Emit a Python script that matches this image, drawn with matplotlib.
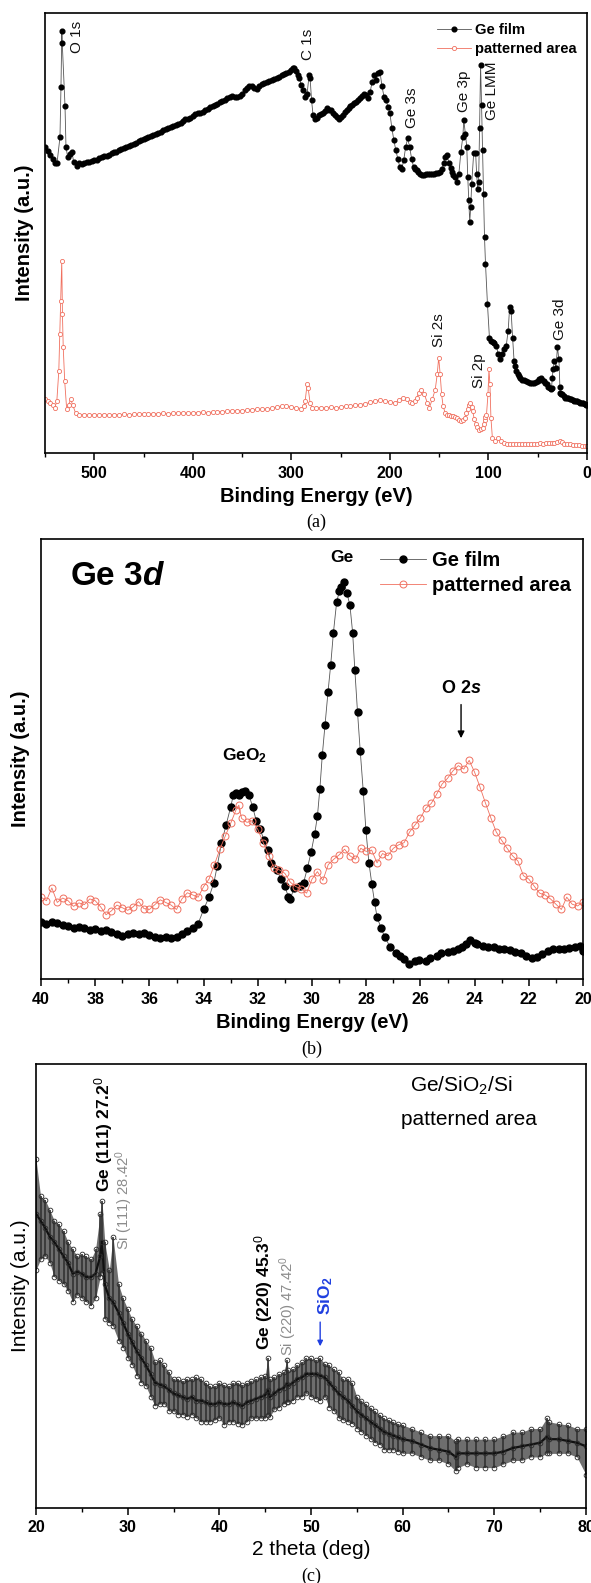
import numpy as np
import matplotlib
matplotlib.use('Agg')
import matplotlib.pyplot as plt
from matplotlib.ticker import MultipleLocator

plt.rcParams['font.family'] = ['Liberation Sans', 'DejaVu Sans']
plt.rcParams['mathtext.fontset'] = 'custom'
plt.rcParams['mathtext.rm'] = 'Liberation Sans'
plt.rcParams['mathtext.it'] = 'Liberation Sans:italic'
plt.rcParams['mathtext.bf'] = 'Liberation Sans:bold'
plt.rcParams['mathtext.bfit'] = 'Liberation Sans:italic:bold'

RED = '#f0705f'
GRAY = '#8c8c8c'

# ── (a) XPS survey: (binding energy, intensity) pairs ────
survey_ge_pts = [
    (550, 69.5), (547, 68.6), (545, 67.7), (542, 66.8), (540, 65.9), (537.8, 65.9),
    (534.8, 71.8), (533.8, 83.2), (532.9, 95.9), (532.5, 93.2), (529.7, 78.9),
    (528.7, 69.5), (527, 67.3), (525, 68.0), (522.6, 68.4), (521, 66.2),
    (517.5, 65.2), (515, 65.8), (512.5, 65.7), (510, 65.9), (507.5, 66.1),
    (505, 66.2), (502.5, 66.4), (500, 66.6), (497.5, 66.7), (495, 67.0),
    (492.5, 67.2), (490, 67.4), (487.5, 67.5), (485, 67.8), (482.5, 68.1),
    (480, 68.3), (477.5, 68.4), (475, 68.8), (472.5, 69.1), (470, 69.3),
    (467.5, 69.5), (465, 69.8), (462.5, 70.1), (460, 70.3), (457.5, 70.4),
    (455, 70.8), (452.5, 71.1), (450, 71.3), (447.5, 71.5), (445, 71.8),
    (442.5, 72.0), (440, 72.3), (437.5, 72.6), (435, 72.8), (432.5, 73.0),
    (430, 73.3), (427.5, 73.6), (425, 73.8), (422.5, 74.0), (420, 74.3),
    (417.5, 74.6), (415, 74.8), (412.5, 75.0), (410, 75.4), (407.5, 75.8),
    (405, 76.0), (402.5, 76.2), (400, 76.6), (397.5, 77.0), (395, 77.2),
    (392.5, 77.3), (390, 77.6), (387.5, 77.9), (385, 78.2), (382.5, 78.6),
    (380, 78.8), (377.5, 79.0), (375, 79.4), (372.5, 79.8), (370, 80.0),
    (367.5, 80.3), (365, 80.6), (362.5, 81.0), (360, 81.2), (357.5, 81.0),
    (355, 80.8), (352.5, 81.2), (350, 81.6), (347.5, 82.4), (345, 83.0),
    (342.5, 83.3), (340, 83.4), (337.5, 83.0), (335, 82.8), (332.5, 83.3),
    (330, 83.8), (327.5, 84.1), (325, 84.4), (322.5, 84.6), (320, 84.8),
    (317.5, 85.0), (315, 85.2), (312.5, 85.5), (310, 85.8), (307.5, 86.1),
    (305, 86.4), (302.5, 86.6), (300, 87.0), (298.5, 87.4), (297, 87.6),
    (295, 86.8), (293.5, 86.0), (292, 85.2), (290, 83.7), (288, 82.5),
    (286, 81.0), (284, 81.7), (282, 85.9), (281, 85.2), (279.5, 80.2),
    (278, 76.8), (276, 76.0), (274, 76.2), (272, 76.8), (270, 77.0),
    (268, 77.2), (266, 77.8), (264, 78.3), (262, 78.0), (260, 77.9),
    (258, 77.3), (256, 76.8), (254, 76.3), (252, 76.0), (250, 76.3),
    (248, 76.8), (246, 77.4), (244, 77.9), (242, 78.4), (240, 78.9),
    (238, 79.2), (236, 79.5), (234, 79.8), (232, 80.2), (230, 80.6),
    (228, 81.1), (226, 81.5), (224, 81.4), (222, 80.6), (220, 82.1),
    (218, 84.4), (216, 85.9), (214, 84.8), (212, 86.3), (210, 86.5),
    (208, 83.3), (206, 81.0), (204, 80.2), (202, 78.7), (200, 77.2),
    (198, 73.8), (196, 71.1), (194, 68.8), (192, 66.9), (190, 65.0),
    (188, 64.6), (186, 66.5), (184, 69.6), (182, 71.5), (180, 69.6),
    (178, 66.9), (176, 65.0), (174.5, 64.6), (173, 64.3), (171, 63.8),
    (169, 63.5), (167, 63.2), (165, 63.1), (163, 63.3), (161, 63.5),
    (159, 63.5), (157, 63.4), (155, 63.5), (153, 63.6), (151, 63.6),
    (149, 63.9), (147, 64.6), (145.5, 66.0), (144, 67.3), (142, 67.7),
    (140, 65.8), (138.5, 64.8), (137, 63.9), (135.5, 63.2), (134, 62.7),
    (132, 61.6), (130, 63.5), (128, 68.4), (126, 71.9), (125, 75.7),
    (123.5, 72.6), (122, 69.6), (121, 62.7), (120, 57.4), (119, 52.5),
    (118, 55.9), (117, 61.2), (115, 68.1), (113, 68.1), (112, 63.5),
    (111, 60.1), (110, 61.6), (109, 73.8), (108, 88.2), (107, 79.1),
    (106, 68.8), (105, 58.9), (104, 49.0), (103, 43.0), (101, 33.8),
    (99, 26.2), (97, 25.5), (95.5, 25.3), (94, 25.1), (92, 24.3),
    (90, 22.4), (88, 21.3), (86, 22.4), (84, 23.6), (82, 24.3),
    (80, 27.8), (78.5, 33.1), (77, 32.3), (75.5, 26.2), (74, 20.9),
    (73, 19.7), (72, 18.6), (70.5, 18.0), (69, 17.5), (67.5, 17.1),
    (66, 16.7), (64, 16.5), (62, 16.3), (60, 16.1), (58, 16.0),
    (56, 16.0), (54, 16.0), (52, 16.1), (50, 16.3), (48.5, 16.8),
    (47, 17.1), (45.5, 16.6), (44, 16.3), (42.5, 15.9), (41, 15.6),
    (39.5, 15.1), (38, 14.7), (37, 14.6), (36, 14.8), (35.2, 17.0),
    (34.5, 19.0), (33, 20.9), (31.5, 19.4), (30, 24.0), (28.5, 21.3),
    (27.5, 15.0), (27, 13.7), (26, 13.5), (25, 13.3), (23.5, 12.9),
    (22, 12.5), (20.5, 12.5), (19, 12.5), (17.5, 12.3), (16, 12.2),
    (14.5, 12.0), (13, 11.9), (11.5, 11.9), (10, 11.8), (8.5, 11.6),
    (7, 11.4), (5.5, 11.3), (4, 11.3), (2.5, 11.1), (1, 11.0), (0, 11.0)]

survey_pattern_pts = [
    (550, 12.2), (547, 11.8), (545, 11.4), (542, 10.8), (540, 10.3), (538, 11.8),
    (536, 18.6), (535, 27.0), (534, 34.6), (533, 43.7), (532.3, 31.6),
    (531.5, 24.0), (530, 16.3), (528, 9.9), (526, 11.0), (524, 12.2),
    (522, 11.0), (519, 9.1), (515, 8.7), (510, 8.7), (505, 8.6), (500, 8.7),
    (495, 8.6), (490, 8.7), (485, 8.6), (480, 8.7), (475, 8.7), (470, 8.8),
    (465, 8.7), (460, 8.8), (455, 8.8), (450, 8.9), (445, 8.8), (440, 8.9),
    (435, 8.9), (430, 9.0), (425, 8.9), (420, 9.0), (415, 9.1), (410, 9.1),
    (405, 9.0), (400, 9.1), (395, 9.2), (390, 9.3), (385, 9.2), (380, 9.3),
    (375, 9.4), (370, 9.4), (365, 9.5), (360, 9.5), (355, 9.6), (350, 9.6),
    (345, 9.7), (340, 9.8), (335, 9.9), (330, 9.9), (325, 10.0), (320, 10.2),
    (315, 10.4), (310, 10.6), (305, 10.7), (300, 10.4), (295, 10.3),
    (290, 10.1), (287.5, 10.6), (286, 11.8), (284, 15.7), (283, 14.8),
    (281, 11.4), (279, 10.3), (275, 10.2), (270, 10.3), (265, 10.2),
    (260, 10.4), (255, 10.3), (250, 10.4), (245, 10.6), (240, 10.7),
    (235, 10.8), (230, 11.0), (225, 11.2), (220, 11.5), (215, 11.8),
    (210, 12.0), (205, 11.8), (200, 11.6), (195, 11.4), (191, 12.0),
    (187, 12.5), (183, 12.2), (180, 11.7), (178, 11.4), (175, 11.8),
    (173, 12.5), (170.5, 13.6), (168, 14.4), (165, 13.3), (162, 11.4),
    (160, 10.3), (157, 12.2), (154, 14.4), (152, 17.9), (150.5, 21.7),
    (149, 17.9), (147.5, 13.3), (146, 10.6), (144, 9.2), (142, 8.7),
    (140, 8.7), (138, 8.5), (136, 8.4), (134, 8.2), (132, 8.0), (130, 7.6),
    (128, 7.2), (126, 7.6), (124, 8.0), (122.5, 9.0), (121, 9.9),
    (119.5, 11.0), (118.5, 11.4), (117, 10.5), (116, 9.5), (114.5, 7.8),
    (113, 6.5), (111.5, 5.8), (110, 5.3), (108, 5.4), (106, 5.7), (105, 6.5),
    (104, 7.4), (103, 8.2), (102, 8.7), (100.5, 13.3), (99.5, 19.0),
    (98.5, 15.6), (97.5, 8.0), (96, 3.4), (93, 2.7), (90, 3.4), (87, 2.7),
    (84, 2.2), (81, 2.0), (78, 2.0), (75, 2.0), (72, 2.0), (69, 2.0),
    (66, 2.0), (63, 2.1), (60, 2.0), (57, 2.1), (54, 2.1), (51, 2.1),
    (48, 2.2), (45, 2.1), (42, 2.2), (39, 2.2), (36, 2.3), (33, 2.2),
    (30, 2.4), (27, 2.8), (25, 2.4), (23, 2.0), (20, 2.0), (17, 2.0),
    (14, 1.9), (11, 1.9), (8, 1.8), (5, 1.7), (2, 1.6), (0, 1.5)]

survey_labels = ['O 1s', 'C 1s', 'Ge 3s', 'Ge 3p', 'Ge LMM', 'Si 2s', 'Si 2p', 'Ge 3d']
survey_label_be = [517.5, 283, 177.6, 124.8, 96.4, 150.2, 109.6, 27.4]
survey_label_y = [90.9, 89.3, 73.9, 77.5, 75.7, 24.1, 14.8, 25.7]

# ── (b) Ge 3d core level ─────────────────────────────────────────────────────
ge3d_be = [40.0, 39.8, 39.6, 39.4, 39.2, 39.0, 38.8, 38.6, 38.4, 38.2, 38.0,
           37.8, 37.6, 37.4, 37.2, 37.0, 36.8, 36.6, 36.4, 36.2, 36.0, 35.8,
           35.6, 35.4, 35.2, 35.0, 34.8, 34.6, 34.4, 34.2, 34.0, 33.8, 33.62,
           33.5, 33.34, 33.17, 33.0, 32.9, 32.8, 32.7, 32.6, 32.47, 32.33, 32.19,
           32.05, 31.92, 31.78, 31.64, 31.5, 31.29, 31.15, 31.0, 30.87, 30.8,
           30.66, 30.45, 30.31, 30.17, 30.03, 29.9, 29.8, 29.71, 29.62, 29.52,
           29.41, 29.31, 29.21, 29.09, 28.99, 28.92, 28.82, 28.71, 28.6, 28.5,
           28.42, 28.32, 28.22, 28.11, 28.01, 27.9, 27.79, 27.69, 27.6, 27.46,
           27.32, 27.11, 26.9, 26.76, 26.6, 26.41, 26.2, 26.06, 25.8, 25.64,
           25.4, 25.23, 25.0, 24.81, 24.6, 24.46, 24.3, 24.18, 24.0, 23.9, 23.7,
           23.5, 23.3, 23.1, 22.9, 22.7, 22.5, 22.3, 22.1, 21.9, 21.7, 21.5,
           21.3, 21.1, 20.9, 20.7, 20.5, 20.3, 20.1, 20.0]
ge3d_film = [12.9, 12.6, 13.0, 12.8, 12.3, 12.0, 11.6, 11.9, 11.5, 11.2, 11.4,
             11.0, 11.2, 10.7, 10.2, 9.8, 10.3, 10.5, 10.2, 10.4, 10.1, 9.6,
             9.3, 9.5, 9.3, 9.6, 10.2, 10.8, 11.5, 12.6, 15.8, 18.6, 21.9,
             25.6, 30.9, 35.0, 39.1, 41.9, 42.3, 41.9, 42.5, 42.8, 41.9, 39.1,
             35.8, 34.2, 31.7, 29.3, 26.4, 24.8, 22.7, 21.1, 18.6, 18.2,
             20.7, 21.1, 21.9, 25.2, 28.9, 33.0, 37.0, 43.2, 50.9, 57.7,
             65.2, 71.4, 78.7, 85.7, 88.1, 89.0, 90.2, 87.7, 84.9, 78.7,
             70.3, 60.6, 51.8, 42.8, 33.8, 26.4, 21.5, 17.4, 14.1, 11.7,
             9.6, 7.2, 6.0, 5.2, 4.6, 3.5, 4.0, 4.3, 4.0, 4.7,
             5.3, 6.0, 6.1, 6.4, 6.9, 7.2, 8.0, 8.8, 8.2, 8.0, 7.6,
             7.3, 7.2, 6.9, 6.8, 6.6, 6.2, 6.0, 5.3, 4.7, 5.0, 5.6,
             6.4, 6.8, 6.9, 6.8, 7.0, 7.3, 7.6, 6.4]

o2s_be = [40.0, 39.8, 39.6, 39.4, 39.2, 39.0, 38.8, 38.6, 38.4, 38.2, 38.0,
          37.8, 37.6, 37.4, 37.2, 37.0, 36.8, 36.6, 36.4, 36.2, 36.0, 35.8,
          35.6, 35.4, 35.2, 35.0, 34.8, 34.6, 34.4, 34.2, 34.0, 33.8, 33.6,
          33.4, 33.2, 33.0, 32.8, 32.7, 32.6, 32.4, 32.2, 32.0, 31.8, 31.6,
          31.4, 31.2, 31.0, 30.8, 30.6, 30.4, 30.2, 30.0, 29.8, 29.6, 29.4,
          29.2, 29.0, 28.8, 28.6, 28.4, 28.2, 28.0, 27.8, 27.6, 27.4, 27.2,
          27.0, 26.8, 26.6, 26.4, 26.2, 26.0, 25.8, 25.6, 25.4, 25.2, 25.0,
          24.8, 24.6, 24.4, 24.2, 24.0, 23.8, 23.6, 23.4, 23.2, 23.0, 22.8,
          22.6, 22.4, 22.2, 22.0, 21.8, 21.6, 21.4, 21.2, 21.0, 20.8, 20.6,
          20.4, 20.2, 20.0]
o2s_pattern = [18.6, 17.8, 20.7, 17.4, 18.4, 17.8, 16.5, 17.3, 16.9, 18.2, 17.8,
               16.4, 14.6, 15.5, 16.8, 16.2, 15.6, 16.4, 17.6, 16.0, 15.8, 16.9,
               18.0, 17.4, 16.8, 15.8, 18.2, 19.6, 19.1, 18.6, 21.0, 22.7, 26.0,
               29.5, 32.5, 35.4, 38.5, 39.5, 36.5, 35.6, 36.0, 34.0, 31.0, 28.0,
               25.2, 24.8, 24.0, 22.0, 21.0, 20.5, 19.5, 22.7, 24.4, 22.4, 26.0,
               27.2, 28.2, 29.5, 28.0, 27.2, 29.7, 29.0, 29.3, 26.4, 28.5, 28.0,
               29.7, 30.5, 31.0, 33.4, 35.0, 36.6, 38.8, 39.9, 42.0, 44.3, 45.6,
               47.3, 48.5, 47.7, 49.7, 47.0, 43.6, 40.0, 36.6, 33.4, 31.5, 29.7,
               28.0, 26.8, 23.5, 22.7, 21.1, 19.5, 19.1, 18.2, 17.0, 15.8, 18.6,
               17.0, 16.6, 17.5]

# ── (c) XRD: band centre and upper / lower edge of the noisy trace ───────────
two_theta = [20.0, 20.5, 21.0, 21.5, 22.0, 22.5, 23.0, 23.5, 24.0, 24.5, 25.0,
             25.5, 26.0, 26.5, 27.0, 27.2, 27.5, 28.0, 28.4, 29.0, 29.5, 30.0,
             30.5, 31.0, 31.5, 32.0, 32.5, 33.0, 33.5, 34.0, 34.5, 35.0, 35.5,
             36.0, 36.5, 37.0, 37.5, 38.0, 38.5, 39.0, 39.5, 40.0, 40.5, 41.0,
             41.5, 42.0, 42.5, 43.0, 43.5, 44.0, 44.5, 45.0, 45.3, 45.5, 46.0,
             46.5, 47.0, 47.4, 47.5, 48.0, 48.5, 49.0, 49.5, 50.0, 50.5, 51.0,
             51.5, 52.0, 52.5, 53.0, 53.5, 54.0, 54.5, 55.0, 55.5, 56.0, 56.5,
             57.0, 57.5, 58.0, 58.5, 59.0, 59.5, 60.0, 61.0, 62.0, 63.0, 64.0,
             65.0, 65.8, 66.0, 67.0, 68.0, 69.0, 70.0, 71.0, 72.0, 73.0, 74.0,
             75.0, 75.7, 76.0, 77.0, 78.0, 79.0, 80.0]
xrd_mid = [66.3, 64.7, 63.1, 61.1, 59.9, 58.3, 56.7, 55.2, 52.8, 53.2, 52.8,
           52.0, 52.0, 52.8, 56.7, 60.0, 50.4, 47.2, 46.4, 44.0, 41.7, 39.3,
           37.3, 35.3, 33.7, 32.1, 30.2, 28.2, 27.8, 27.4, 26.6, 25.8, 25.4,
           25.0, 24.6, 25.0, 24.2, 24.2, 23.8, 23.4, 23.4, 23.8, 23.4, 23.4,
           23.8, 23.4, 23.0, 23.8, 24.2, 24.6, 25.0, 25.4, 26.5, 25.0, 25.8,
           26.6, 27.0, 28.0, 27.4, 28.2, 29.0, 29.4, 30.2, 30.2, 30.2, 29.8,
           29.4, 28.2, 27.0, 25.8, 25.0, 24.2, 23.0, 21.8, 21.0, 20.2, 19.4,
           18.7, 17.9, 17.1, 16.7, 16.3, 15.9, 15.5, 15.1, 14.3, 13.5, 13.1,
           12.7, 11.5, 12.3, 12.3, 12.3, 12.3, 12.3, 12.7, 13.5, 13.9, 14.3,
           14.7, 16.0, 15.5, 15.5, 15.1, 14.7, 13.9]
xrd_hi = [78.6, 70.2, 69.4, 67.1, 64.7, 63.9, 62.3, 59.9, 58.3, 56.7, 57.1,
          56.7, 56.0, 58.3, 66.3, 69.2, 59.9, 53.6, 61.1, 50.4, 47.2, 44.8,
          42.5, 40.9, 39.3, 37.7, 36.1, 32.9, 33.3, 32.1, 30.6, 29.0, 29.0,
          28.6, 29.0, 29.0, 29.4, 29.0, 28.2, 27.4, 27.4, 28.2, 27.8, 27.4,
          28.2, 28.2, 27.8, 28.2, 28.6, 29.0, 29.4, 29.8, 33.7, 29.0, 29.4,
          30.2, 30.6, 33.3, 31.0, 31.3, 32.1, 32.9, 33.7, 33.7, 33.3, 33.7,
          32.5, 32.1, 31.3, 30.6, 29.0, 29.0, 28.2, 25.0, 24.2, 23.4, 22.6,
          21.8, 21.0, 20.2, 19.8, 19.4, 19.0, 18.7, 17.9, 17.1, 16.3, 16.3,
          16.3, 15.0, 15.5, 15.5, 15.5, 15.5, 15.5, 16.3, 17.1, 17.1, 17.9,
          17.9, 20.2, 19.4, 19.0, 18.7, 17.9, 17.9]
xrd_lo = [53.6, 56.0, 56.7, 55.2, 52.0, 51.2, 50.4, 48.8, 46.4, 48.0, 47.2,
          46.4, 45.6, 47.2, 52.0, 53.0, 42.5, 41.7, 40.9, 37.7, 36.1, 33.7,
          32.1, 29.8, 28.2, 27.4, 25.0, 23.0, 23.4, 23.4, 21.8, 21.8, 21.0,
          21.0, 20.6, 21.0, 20.2, 19.4, 19.4, 19.4, 19.8, 20.2, 18.7, 19.4,
          19.4, 19.0, 18.7, 19.4, 20.2, 20.2, 20.2, 20.2, 21.0, 20.6, 22.2,
          22.6, 23.4, 23.8, 23.8, 24.2, 25.0, 25.0, 25.8, 25.0, 24.6, 24.2,
          25.0, 22.6, 21.8, 20.2, 19.8, 19.4, 19.0, 17.9, 17.1, 16.3, 15.5,
          14.7, 14.3, 13.1, 13.1, 13.1, 12.7, 12.3, 12.3, 11.5, 10.7, 10.7,
          9.9, 8.3, 9.1, 9.9, 9.1, 9.1, 9.1, 9.9, 10.7, 10.7, 11.5,
          11.5, 12.3, 12.3, 12.3, 12.3, 11.5, 7.5]

W, H = 591, 1583
fig = plt.figure(figsize=(W / 100, H / 100), dpi=100)


def box(left, top, right, bottom):
    return [left / W, 1 - bottom / H, (right - left) / W, (bottom - top) / H]


def style_axis(ax):
    for sp in ax.spines.values():
        sp.set_linewidth(1.2)
    ax.set_yticks([])
    ax.tick_params(axis='x', which='major', direction='out', length=5, width=1.1,
                   labelsize=11.5, pad=4)
    ax.tick_params(axis='x', which='minor', direction='out', length=3, width=1.0)
    for lab in ax.get_xticklabels():
        lab.set_fontweight('bold')


# ── panel (a) ──
ge_be, ge_int = zip(*survey_ge_pts)
pa_be, pa_int = zip(*survey_pattern_pts)
ax1 = fig.add_axes(box(45, 13, 587, 453))
ax1.plot(ge_be, ge_int, '-', color='#555555', lw=0.6, marker='o', ms=3.4,
         mfc='black', mec='black', label='Ge film')
ax1.plot(pa_be, pa_int, '-', color=RED, lw=0.6, marker='o', ms=3.0,
         mfc='white', mec=RED, mew=0.6, label='patterned area')
ax1.set_xlim(550, 0)
ax1.set_ylim(0, 100)
ax1.xaxis.set_major_locator(MultipleLocator(100))
ax1.xaxis.set_minor_locator(MultipleLocator(50))
style_axis(ax1)
ax1.set_xlabel('Binding Energy (eV)', fontsize=14.5, fontweight='bold', labelpad=5)
ax1.set_ylabel('Intensity (a.u.)', fontsize=14.5, fontweight='bold', labelpad=8)
for txt, xb, yb in zip(survey_labels, survey_label_be, survey_label_y):
    ax1.text(xb, yb, txt, rotation=90, ha='center', va='bottom', fontsize=11,
             color='#111111')
ax1.legend(loc='upper right', frameon=False, handlelength=2.3, handletextpad=0.3,
           labelspacing=0.35, borderaxespad=0.3, prop={'weight': 'bold', 'size': 10.6})

# ── panel (b) ──
ax2 = fig.add_axes(box(41, 539, 583, 979))
ax2.plot(ge3d_be, ge3d_film, '-', color='#555555', lw=0.6, marker='o', ms=5,
         mfc='black', mec='black', label='Ge film')
ax2.plot(o2s_be, o2s_pattern, '-', color=RED, lw=0.6, marker='o', ms=5,
         mfc='none', mec=RED, mew=0.7, label='patterned area')
ax2.set_xlim(40, 20)
ax2.set_ylim(0, 100)
ax2.xaxis.set_major_locator(MultipleLocator(2))
ax2.xaxis.set_minor_locator(MultipleLocator(1))
style_axis(ax2)
ax2.set_xlabel('Binding Energy (eV)', fontsize=14.5, fontweight='bold', labelpad=5)
ax2.set_ylabel('Intensity (a.u.)', fontsize=14.5, fontweight='bold', labelpad=8)
ax2.text(0.054, 0.914, r'Ge 3$\mathbfit{d}$', transform=ax2.transAxes, fontsize=24,
         fontweight='bold', ha='left', va='center')
ax2.text(28.9, 95.9, 'Ge', ha='center', va='center', fontsize=12.5, fontweight='bold')
ax2.text(32.5, 50.7, r'GeO$_\mathbf{2}$', ha='center', va='center', fontsize=12.5,
         fontweight='bold')
ax2.text(24.5, 66.1, r'O 2$\mathbfit{s}$', ha='center', va='center', fontsize=13,
         fontweight='bold')
ax2.annotate('', xy=(24.5, 54.1), xytext=(24.5, 63.0),
             arrowprops=dict(arrowstyle='-|>', color='black', lw=1.0, mutation_scale=10))
ax2.legend(loc='upper right', frameon=False, handlelength=2.3, handletextpad=0.3,
           labelspacing=0.3, borderaxespad=0.2, prop={'weight': 'bold', 'size': 14.5})

# ── panel (c) ──
ax3 = fig.add_axes(box(36, 1064, 586, 1508))
ax3.fill_between(two_theta, xrd_lo, xrd_hi, color='#6e6e6e', lw=0)
ax3.vlines(two_theta, xrd_lo, xrd_hi, color='#333333', lw=1.2)
ax3.plot(two_theta, xrd_mid, '-', color='#111111', lw=1.6)
for series in (xrd_lo, xrd_mid, xrd_hi):
    ax3.plot(two_theta, series, 'o', ms=3.4, mfc='none', mec='#2a2a2a', mew=0.6)
ax3.set_xlim(20, 80)
ax3.set_ylim(0, 100)
ax3.xaxis.set_major_locator(MultipleLocator(10))
ax3.xaxis.set_minor_locator(MultipleLocator(5))
style_axis(ax3)
ax3.set_xlabel('2 theta (deg)', fontsize=15, labelpad=3)
ax3.set_ylabel('Intensity (a.u.)', fontsize=15, labelpad=4)

ax3.text(27.4, 71.2, r'Ge (111) 27.2$^0$', rotation=90, ha='center', va='bottom',
         fontsize=12.5, fontweight='bold')
ax3.text(29.6, 58.1, r'Si (111) 28.42$^0$', rotation=90, ha='center', va='bottom',
         fontsize=10.6, color=GRAY)
ax3.text(44.8, 35.6, r'Ge (220) 45.3$^0$', rotation=90, ha='center', va='bottom',
         fontsize=12.5, fontweight='bold')
ax3.text(47.5, 34.2, r'Si (220) 47.42$^0$', rotation=90, ha='center', va='bottom',
         fontsize=10.6, color=GRAY)
ax3.text(51.6, 43.5, r'SiO$_\mathbf{2}$', rotation=90, ha='center', va='bottom',
         fontsize=12.5, fontweight='bold', color='#1f3fe0')
ax3.annotate('', xy=(51.0, 35.8), xytext=(51.0, 42.5),
             arrowprops=dict(arrowstyle='-|>', color='#1f3fe0', lw=1.0, mutation_scale=8))
ax3.text(66.4, 95.0, r'Ge/SiO$_2$/Si', ha='center', va='center', fontsize=15)
ax3.text(67.2, 87.4, 'patterned area', ha='center', va='center', fontsize=15)

# panel captions
for ax, lab, ypix in ((ax1, '(a)', 522), (ax2, '(b)', 1049), (ax3, '(c)', 1576)):
    pos = ax.get_position()
    fig.text(pos.x0 + pos.width / 2, 1 - ypix / H, lab, ha='center', va='center',
             fontsize=13, family='Liberation Serif')

fig.savefig('out.png', dpi=100)
